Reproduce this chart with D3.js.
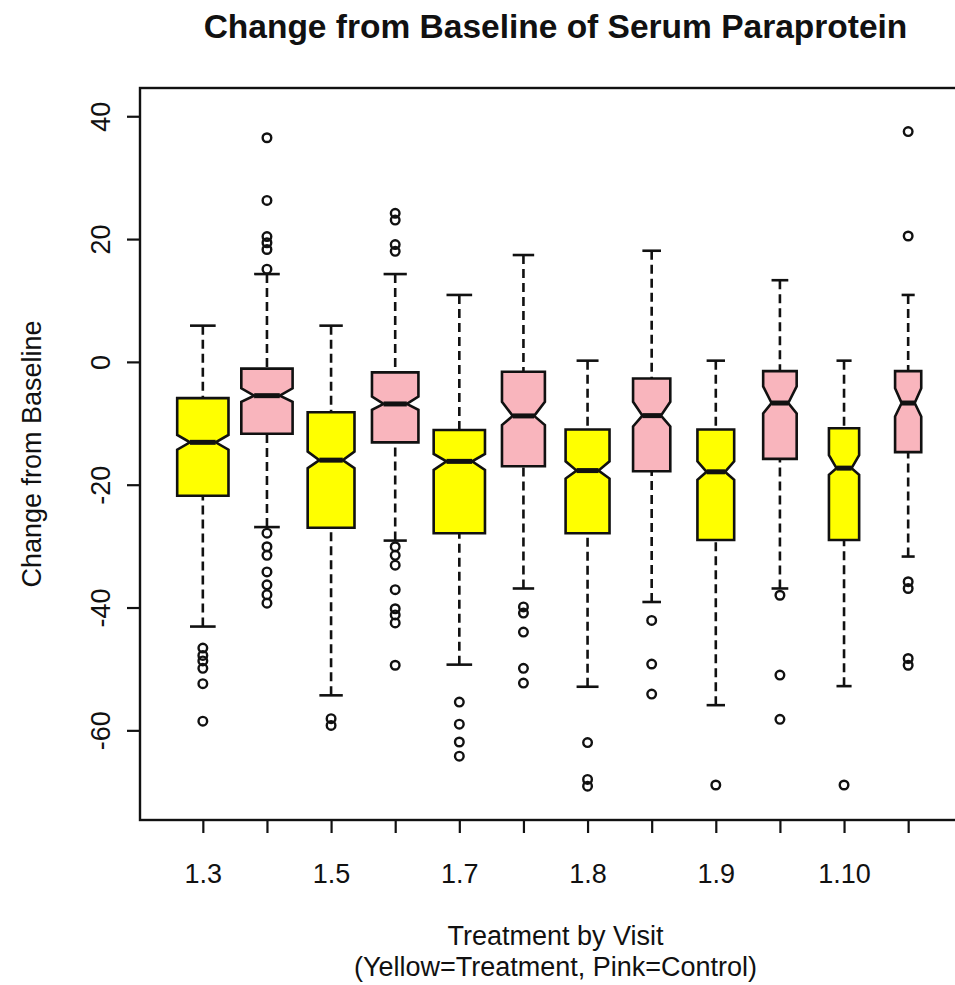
<!DOCTYPE html>
<html>
<head>
<meta charset="utf-8">
<script src="https://cdn.jsdelivr.net/npm/d3@7/dist/d3.min.js"></script>
<style>
  body { margin: 0; background: #fff; overflow: hidden; }
  svg { display: block; }
  text { font-family: "Liberation Sans", Arial, Helvetica, sans-serif; fill: #111; }
</style>
</head>
<body>
<script>
// Groups are treatment arm . visit number; odd positions are Treatment, even are Control
const groups = ["1.3", "2.3", "1.5", "2.5", "1.7", "2.7", "1.8", "2.8", "1.9", "2.9", "1.10", "2.10"];
const arms = ["Treatment", "Control", "Treatment", "Control", "Treatment", "Control",
              "Treatment", "Control", "Treatment", "Control", "Treatment", "Control"];

// Five-number summaries per group
const lowerWhisker = [-43.1, -26.9, -54.3, -29.1, -49.3, -36.9, -52.9, -39.1, -55.9, -36.9, -52.8, -31.7];
const q1           = [-21.8, -11.7, -27.0, -13.1, -27.9, -17.0, -27.9, -17.8, -29.0, -15.8, -29.0, -14.7];
const median       = [-13.1,  -5.5, -16.0,  -6.85, -16.2, -8.8, -17.7, -8.75, -17.9, -6.7, -17.3,  -6.7];
const q3           = [ -5.9,  -1.1,  -8.2,  -1.7, -11.1,  -1.6, -11.0,  -2.7, -11.0,  -1.5, -10.8,  -1.5];
const upperWhisker = [  5.9,  14.3,   5.9,  14.3,  10.9,  17.4,   0.2,  18.1,   0.2,  13.3,   0.2,  10.9];

// Notch limits around each median
const notchLow  = [-14.3, -6.5, -17.3, -7.8, -17.6, -10.3, -19.0, -10.5, -19.2, -8.4, -18.4, -8.9];
const notchHigh = [-11.9, -4.3, -14.6, -5.65, -15.0, -6.5, -16.2, -6.5, -16.2, -4.0, -15.2, -4.3];

// Patients per group (box width grows with the square root of the count)
const counts = [150, 150, 125, 123, 150, 105, 110, 79, 77, 64, 52, 39];

// Points beyond the whiskers
const outliers = [
  [-46.6, -47.8, -48.7, -49.9, -52.4, -58.5],
  [36.5, 26.3, 20.4, 19.4, 18.3, 15.1, -27.9, -30.1, -31.5, -34.2, -36.3, -37.9, -39.3],
  [-58.1, -59.2],
  [24.2, 23.1, 19.1, 18.0, -30.1, -31.5, -33.1, -37.1, -40.2, -41.2, -42.5, -49.4],
  [-55.4, -59.0, -61.9, -64.2],
  [-39.9, -40.9, -44.0, -49.9, -52.3],
  [-62.0, -68.0, -69.1],
  [-42.1, -49.2, -54.1],
  [-68.9],
  [-38.0, -51.0, -58.2],
  [-68.9],
  [37.5, 20.5, -35.8, -36.9, -48.3, -49.4]
];

const yTicks = [40, 20, 0, -20, -40, -60];
const armColors = { Treatment: "#ffff00", Control: "#f9b5bd" };

const W = 955, H = 985;
const plot = { left: 140, right: 971, top: 88, bottom: 820 };

const svg = d3.select("body").append("svg")
  .attr("width", W).attr("height", H);

const x = d3.scaleLinear()
  .domain([0.02, groups.length + 0.98])
  .range([plot.left, plot.right]);

const y = d3.scaleLinear()
  .domain([-74.6, 44.6])
  .range([plot.bottom, plot.top]);

const unit = x(1) - x(0);
const maxCount = d3.max(counts);

const boxes = groups.map((g, i) => ({
  key: g,
  arm: arms[i],
  pos: i + 1,
  lw: lowerWhisker[i], q1: q1[i], med: median[i], q3: q3[i], uw: upperWhisker[i],
  nLo: notchLow[i], nHi: notchHigh[i],
  hw: unit * 0.4 * Math.sqrt(counts[i] / maxCount),
  out: outliers[i]
}));

const marks = svg.append("g");

const box = marks.selectAll("g.box").data(boxes).join("g").attr("class", "box");

// dashed whiskers, drawn from the whisker end toward the hinge
box.append("line")
  .attr("x1", d => x(d.pos)).attr("x2", d => x(d.pos))
  .attr("y1", d => y(d.uw)).attr("y2", d => y(d.q3))
  .attr("stroke", "#111").attr("stroke-width", 2.6).attr("stroke-dasharray", "9,5");
box.append("line")
  .attr("x1", d => x(d.pos)).attr("x2", d => x(d.pos))
  .attr("y1", d => y(d.lw)).attr("y2", d => y(d.q1))
  .attr("stroke", "#111").attr("stroke-width", 2.6).attr("stroke-dasharray", "9,5");

// staples at whisker ends
["uw", "lw"].forEach(k => {
  box.append("line")
    .attr("x1", d => x(d.pos) - d.hw / 2).attr("x2", d => x(d.pos) + d.hw / 2)
    .attr("y1", d => y(d[k])).attr("y2", d => y(d[k]))
    .attr("stroke", "#111").attr("stroke-width", 2.6);
});

// notched box outline
box.append("path")
  .attr("d", d => {
    const xc = x(d.pos), xl = xc - d.hw, xr = xc + d.hw, hn = d.hw / 2;
    const pts = [
      [xl, y(d.q1)], [xl, y(d.nLo)], [xc - hn, y(d.med)], [xl, y(d.nHi)], [xl, y(d.q3)],
      [xr, y(d.q3)], [xr, y(d.nHi)], [xc + hn, y(d.med)], [xr, y(d.nLo)], [xr, y(d.q1)]
    ];
    return d3.line()(pts) + "Z";
  })
  .attr("fill", d => armColors[d.arm])
  .attr("stroke", "#111").attr("stroke-width", 2.6).attr("stroke-linejoin", "miter");

// median bar
box.append("line")
  .attr("x1", d => x(d.pos) - d.hw / 2).attr("x2", d => x(d.pos) + d.hw / 2)
  .attr("y1", d => y(d.med)).attr("y2", d => y(d.med))
  .attr("stroke", "#111").attr("stroke-width", 5);

// outlying points
box.selectAll("circle").data(d => d.out.map(v => ({ pos: d.pos, v }))).join("circle")
  .attr("cx", d => x(d.pos)).attr("cy", d => y(d.v)).attr("r", 4.3)
  .attr("fill", "none").attr("stroke", "#111").attr("stroke-width", 2.4);

// plot frame
svg.append("rect")
  .attr("x", plot.left).attr("y", plot.top)
  .attr("width", plot.right - plot.left).attr("height", plot.bottom - plot.top)
  .attr("fill", "none").attr("stroke", "#111").attr("stroke-width", 2.4);

// y axis, labels parallel to the axis
const yAxis = svg.append("g")
  .attr("transform", `translate(${plot.left},0)`)
  .call(d3.axisLeft(y).tickValues(yTicks).tickSize(13).tickFormat(d => String(d)));
yAxis.select(".domain").remove();
yAxis.selectAll(".tick line").attr("stroke", "#111").attr("stroke-width", 2.2);
yAxis.selectAll(".tick text")
  .attr("transform", "rotate(-90)")
  .attr("x", 0).attr("y", -30).attr("dy", 0)
  .attr("text-anchor", "middle")
  .style("font-size", "27px").attr("fill", "#111");
yAxis.attr("font-family", null).attr("font-size", null);

// x axis, every other group labelled
const xAxis = svg.append("g")
  .attr("transform", `translate(0,${plot.bottom})`)
  .call(d3.axisBottom(x).tickValues(boxes.map(d => d.pos)).tickSize(13)
    .tickFormat((d, i) => i % 2 === 0 ? groups[i] : ""));
xAxis.select(".domain").remove();
xAxis.selectAll(".tick line").attr("stroke", "#111").attr("stroke-width", 2.2);
xAxis.selectAll(".tick text")
  .attr("y", 63).attr("dy", 0)
  .style("font-size", "27px").attr("fill", "#111");
xAxis.attr("font-family", null).attr("font-size", null);

// titles
const midX = (plot.left + plot.right) / 2;
svg.append("text")
  .attr("x", midX).attr("y", 38).attr("text-anchor", "middle")
  .style("font-size", "33.5px").style("font-weight", "bold")
  .text("Change from Baseline of Serum Paraprotein");

svg.append("text")
  .attr("x", midX).attr("y", 945).attr("text-anchor", "middle")
  .style("font-size", "27px")
  .text("Treatment by Visit");
svg.append("text")
  .attr("x", midX).attr("y", 976).attr("text-anchor", "middle")
  .style("font-size", "27px")
  .text("(Yellow=Treatment, Pink=Control)");

svg.append("text")
  .attr("transform", `translate(41,${(plot.top + plot.bottom) / 2}) rotate(-90)`)
  .attr("text-anchor", "middle")
  .style("font-size", "27px")
  .text("Change from Baseline");
</script>
</body>
</html>
